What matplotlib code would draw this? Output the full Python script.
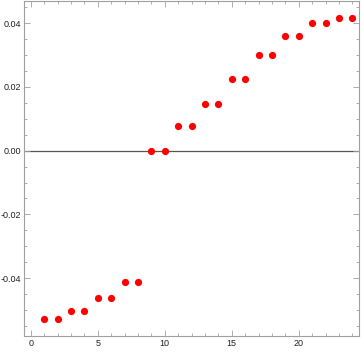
import matplotlib
matplotlib.use("Agg")
import matplotlib.pyplot as plt
from matplotlib.ticker import MultipleLocator, FormatStrFormatter

plt.rcParams["axes.unicode_minus"] = False
plt.rcParams["font.family"] = ["Liberation Sans", "DejaVu Sans"]

x_vals = list(range(1, 25))
y_vals = [-0.0529, -0.0529, -0.0504, -0.0504, -0.0463, -0.0463, -0.0413, -0.0413,
          0.0, 0.0, 0.0076, 0.0076, 0.0147, 0.0147, 0.0224, 0.0224,
          0.0300, 0.0300, 0.0360, 0.0360, 0.0399, 0.0399, 0.0417, 0.0417]

fig = plt.figure(figsize=(3.61, 3.52), dpi=100)
ax = fig.add_axes([24 / 361, 16 / 352, 335 / 361, 335 / 352])

ax.axhline(0, color="#555555", lw=0.9, zorder=1)
ax.plot(x_vals, y_vals, "o", color="red", markersize=5.2, markeredgewidth=0, zorder=3)

ax.set_xlim(-0.5, 24.5)
ax.set_ylim(-0.0581, 0.0469)

ax.xaxis.set_major_locator(MultipleLocator(5))
ax.xaxis.set_minor_locator(MultipleLocator(1))
ax.yaxis.set_major_locator(MultipleLocator(0.02))
ax.yaxis.set_minor_locator(MultipleLocator(0.005))
ax.yaxis.set_major_formatter(FormatStrFormatter("%.2f"))

for s in ax.spines.values():
    s.set_color("#a0a0a0")
    s.set_linewidth(0.8)

ax.tick_params(which="both", direction="in", top=True, right=True,
               color="#a0a0a0", width=0.6, labelsize=6.5, labelcolor="#222222")
ax.tick_params(which="major", length=4, pad=2)
ax.tick_params(which="minor", length=2)

fig.savefig("out.png", dpi=100)
